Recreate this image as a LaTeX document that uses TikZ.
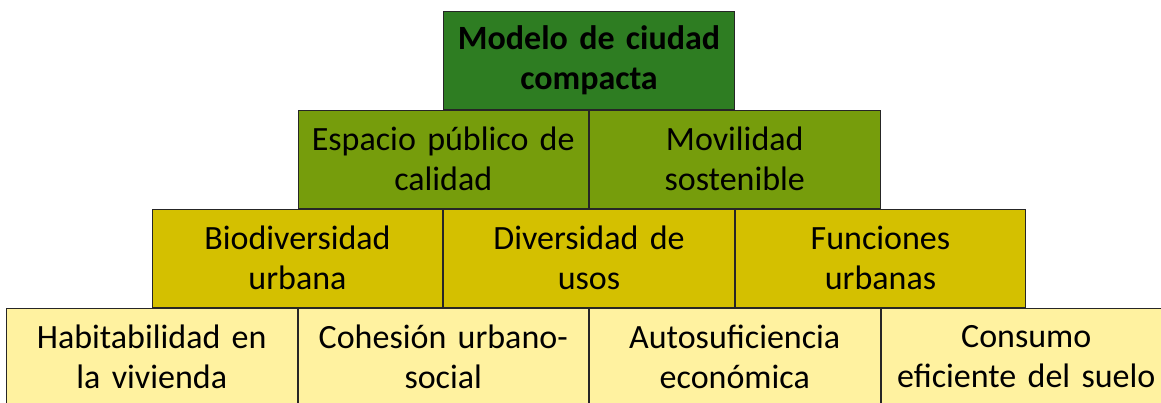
\documentclass[tikz,border=0pt]{standalone}
\usepackage{fontspec}
\setmainfont{Carlito}
\usetikzlibrary{positioning}
\definecolor{verdeosc}{RGB}{46,125,34}
\definecolor{verdeoliva}{RGB}{118,157,12}
\definecolor{mostaza}{RGB}{212,192,0}
\definecolor{amarillo}{RGB}{255,242,160}
\tikzset{
bloque/.style = {draw=black!85, line width=1pt, minimum width=290.5pt, minimum height=98pt,
  inner sep=0pt, text width=285pt, align=center, font=\fontsize{34}{40}\selectfont},
nivel1/.style = {bloque, fill=verdeosc, font=\fontsize{34}{40}\selectfont\bfseries},
nivel2/.style = {bloque, fill=verdeoliva},
nivel3/.style = {bloque, fill=mostaza},
nivel4/.style = {bloque, fill=amarillo}
}

\begin{document}
\begin{tikzpicture}[x=1pt,y=1pt]
  \useasboundingbox (0,0) rectangle (1161,-402);
  % cima
  \node [nivel1] (modelo) at (589,-60) {Modelo de ciudad\\compacta};
  % segundo nivel
  \node [nivel2, anchor=north east] (espacio) at (modelo.south) {Espacio público de\\calidad};
  \node [nivel2, anchor=north west] (movilidad) at (modelo.south) {Movilidad\\sostenible};
  % tercer nivel
  \node [nivel3, anchor=north] (diversidad) at (espacio.south east) {Diversidad de\\usos};
  \node [nivel3, left=0pt of diversidad] (biodiv) {Biodiversidad\\urbana};
  \node [nivel3, right=0pt of diversidad] (funciones) {Funciones\\urbanas};
  % base
  \node [nivel4, anchor=north east] (cohesion) at (diversidad.south) {Cohesión urbano-\\social};
  \node [nivel4, anchor=north west] (autosuf) at (diversidad.south) {Autosuficiencia\\económica};
  \node [nivel4, left=0pt of cohesion] (habitab) {Habitabilidad en\\la vivienda};
  \node [nivel4, right=0pt of autosuf] (consumo) {Consumo\\eficiente del suelo};
\end{tikzpicture}
\end{document}
